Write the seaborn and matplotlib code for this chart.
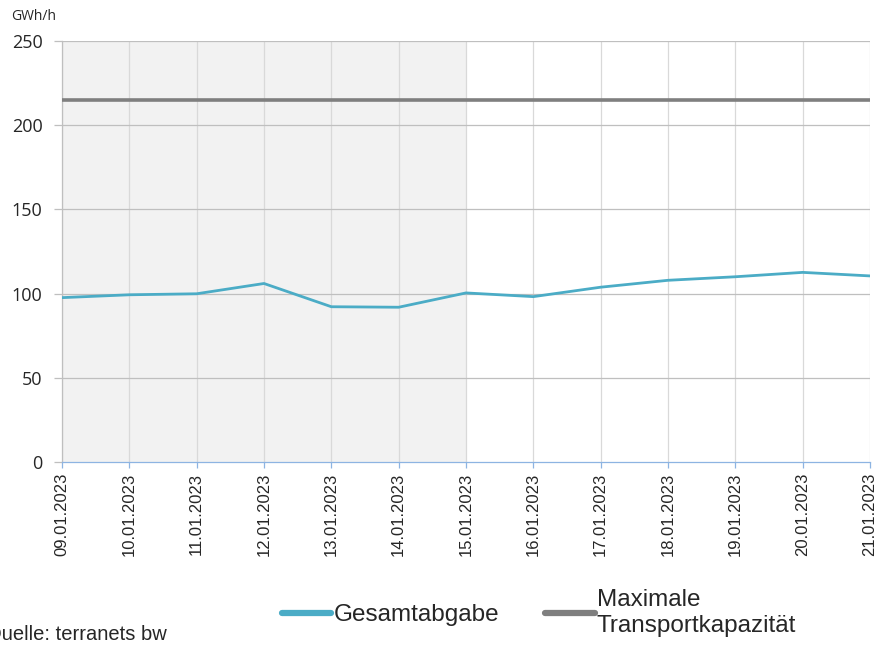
import matplotlib
matplotlib.use("Agg")
import matplotlib.pyplot as plt
import matplotlib.dates as mdates
import pandas as pd
import seaborn as sns

# Werte
dates = ["09.01.2023", "10.01.2023", "11.01.2023", "12.01.2023", "13.01.2023",
         "14.01.2023", "15.01.2023", "16.01.2023", "17.01.2023", "18.01.2023",
         "19.01.2023", "20.01.2023", "21.01.2023"]
gesamtabgabe = [97.6, 99.3, 99.9, 106.0, 92.2, 91.9, 100.4, 98.2, 103.8, 107.9, 110.0, 112.6, 110.5]
max_kapazitaet = [215] * len(dates)
shade_start, shade_end = "09.01.2023", "15.01.2023"

df = pd.DataFrame({
    "datum": pd.to_datetime(dates, format="%d.%m.%Y"),
    "Gesamtabgabe": gesamtabgabe,
    "Maximale\nTransportkapazität": max_kapazitaet,
})

sns.set_style("white")
plt.rcParams["font.family"] = ["Liberation Sans", "DejaVu Sans"]

fig = plt.figure(figsize=(8.78, 6.46), dpi=100)
ax = fig.add_axes([62 / 878, 1 - 462 / 646, 808 / 878, 421 / 646])

ax.axvspan(pd.to_datetime(shade_start, format="%d.%m.%Y"),
           pd.to_datetime(shade_end, format="%d.%m.%Y"),
           color="#F2F2F2", zorder=0, lw=0)

sns.lineplot(data=df, x="datum", y="Maximale\nTransportkapazität", ax=ax,
             color="#7F7F7F", lw=2.6, label="Maximale\nTransportkapazität", zorder=3)
sns.lineplot(data=df, x="datum", y="Gesamtabgabe", ax=ax,
             color="#4BACC6", lw=2.0, label="Gesamtabgabe", zorder=4)

ax.set_xlim(df["datum"].iloc[0], df["datum"].iloc[-1])
ax.set_ylim(0, 250)
ax.set_yticks(range(0, 251, 50))
ax.set_xticks(df["datum"])
ax.xaxis.set_major_formatter(mdates.DateFormatter("%d.%m.%Y"))
ax.set_xlabel("")
ax.set_ylabel("")

for d in df["datum"]:
    ax.axvline(d, color="#D9D9D9", lw=0.9, zorder=1)
for y in range(50, 251, 50):
    ax.axhline(y, color="#BFBFBF", lw=0.9, zorder=1)

for s in ["top", "right"]:
    ax.spines[s].set_visible(False)
ax.spines["left"].set_color("#BFBFBF")
ax.spines["left"].set_linewidth(0.9)
ax.spines["bottom"].set_color("#8DB4E2")
ax.spines["bottom"].set_linewidth(0.9)

ax.tick_params(axis="x", rotation=90, labelsize=12, colors="#8DB4E2",
               labelcolor="#262626", length=4, width=0.9, pad=4, direction="out")
ax.tick_params(axis="y", labelsize=13, colors="#BFBFBF", labelcolor="#262626",
               length=6, width=0.9, pad=8, direction="out")
ax.tick_params(axis="x", bottom=True)
ax.tick_params(axis="y", left=True)
for lab in ax.get_yticklabels():
    lab.set_family(["Open Sans", "DejaVu Sans"])

fig.text(11 / 878, 1 - 17 / 646, "GWh/h", fontsize=10, color="#262626",
         family=["Open Sans", "DejaVu Sans"], va="center", ha="left")
# Quelle ist im Original links abgeschnitten
fig.text(-14 / 878, 1 - 635 / 646, "Quelle: terranets bw", fontsize=14.5,
         color="#262626", va="center", ha="left")

ax.get_legend().remove()
handles, labels = ax.get_legend_handles_labels()
order = [labels.index("Gesamtabgabe"), labels.index("Maximale\nTransportkapazität")]
fig.legend([handles[i] for i in order], [labels[i] for i in order],
           loc="center", bbox_to_anchor=(539 / 878, 1 - 613 / 646), ncol=2,
           frameon=False, fontsize=17.5, handlelength=2.05, handletextpad=0.08,
           columnspacing=1.9, labelcolor="#262626")
for h in fig.legends[0].legend_handles:
    h.set_linewidth(4.5)

fig.savefig("out.png", dpi=100)
